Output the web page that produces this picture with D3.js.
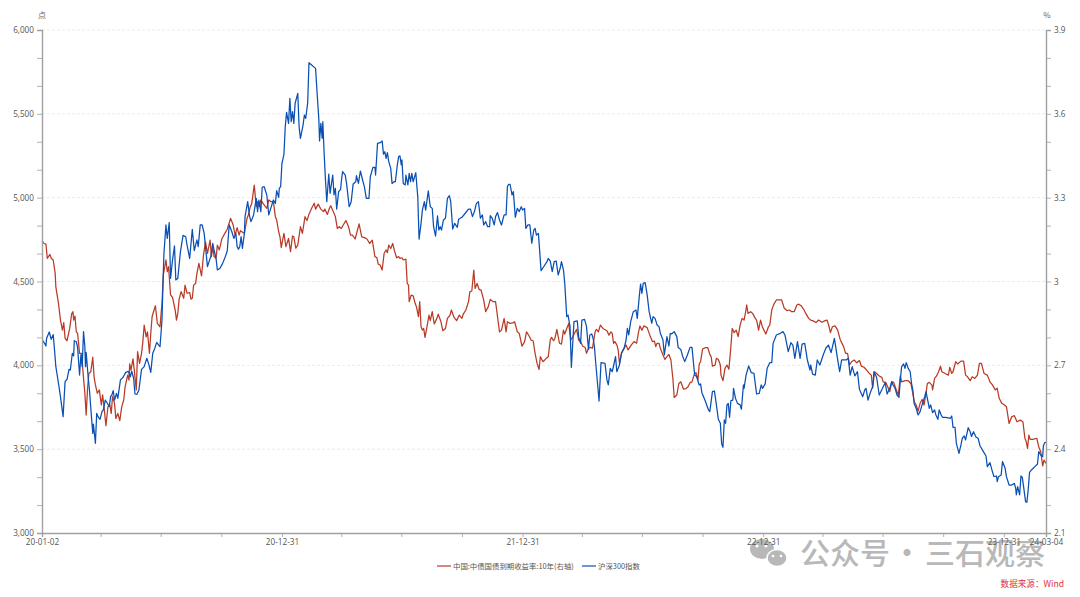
<!DOCTYPE html>
<html>
<head>
<meta charset="utf-8">
<script src="https://cdn.jsdelivr.net/npm/d3@7"></script>
<style>
body{margin:0;background:#fff}
text{font-family:"Noto Sans CJK SC","Open Sans",sans-serif}
</style>
</head>
<body>
<div id="chart"></div>
<script>
// [days since 20-01-02, value]
const hs300 = [[1,4147],[4,4131],[6,4115],[7,4161],[11,4199],[14,4155],[17,4183],[19,4092],[21,3992],[25,3893],[28,3813],[32,3694],[35,3903],[38,3917],[41,3976],[43,3972],[46,4072],[48,4056],[49,4147],[52,4141],[54,4107],[57,3942],[59,4062],[61,3992],[63,4201],[65,4111],[66,3992],[67,4078],[70,3932],[72,3853],[75,3694],[77,3594],[78,3650],[81,3535],[83,3714],[85,3694],[88,3678],[91,3724],[93,3734],[96,3793],[100,3768],[102,3754],[104,3813],[106,3823],[108,3849],[110,3793],[113,3833],[115,3803],[119,3913],[123,3929],[127,3958],[131,3964],[134,3932],[136,3966],[139,3923],[141,3829],[144,3827],[147,3853],[151,3976],[155,3992],[159,4042],[162,4006],[165,3958],[168,4072],[171,4101],[174,4137],[177,4121],[179,4111],[182,4270],[184,4549],[185,4668],[188,4837],[190,4757],[193,4851],[195,4519],[198,4628],[201,4712],[203,4509],[206,4519],[210,4678],[214,4775],[218,4767],[220,4718],[224,4638],[228,4811],[231,4684],[235,4748],[237,4708],[240,4837],[243,4837],[246,4787],[249,4668],[251,4589],[255,4638],
[256,4648],[259,4728],[261,4688],[264,4638],[266,4569],[270,4579],[274,4608],[278,4648],[281,4682],[283,4787],[284,4837],[288,4797],[291,4757],[294,4787],[296,4708],[298,4692],[300,4708],[302,4767],[304,4698],[307,4787],[308,4887],[312,4976],[315,4887],[317,4857],[321,4897],[325,4996],[327,4916],[329,4986],[332,4916],[334,5062],[337,5066],[341,5016],[344,4897],[347,4936],[351,4986],[354,4966],[356,5042],[359,5002],[360,5056],[362,5066],[364,5205],[367,5258],[369,5423],[371,5509],[374,5443],[376,5592],[378,5453],[380,5513],[382,5443],[384,5563],[388,5622],[390,5423],[392,5354],[396,5433],[398,5493],[400,5473],[403,5563],[405,5805],[409,5791],[415,5771],[418,5582],[420,5463],[421,5338],[423,5443],[425,5354],[426,5453],[428,5264],[430,5105],[432,4976],[435,5141],[437,5026],[441,5135],[443,5016],[445,5056],[447,4932],[450,5036],[453,5050],[454,5095],[456,5155],[460,5135],[462,5085],[466,4946],[469,4976],[472,5081],[476,5095],[477,5131],[480,5085],[483,5159],[487,5095],[489,5066],[492,4996],[496,4996],[498,5125],[502,5181],[505,5181],[506,5135],[509,5324],[513,5328],
[516,5338],[518,5260],[520,5274],[522,5235],[524,5268],[526,5215],[529,5175],[531,5085],[534,5095],[536,5095],[539,5195],[541,5245],[543,5249],[545,5195],[546,5225],[548,5085],[551,5076],[552,5135],[555,5076],[557,5145],[559,5095],[561,5145],[563,5095],[567,5149],[570,5006],[572,4753],[575,4847],[577,4926],[580,4976],[582,4926],[586,5040],[589,4946],[592,4936],[594,4827],[597,4771],[600,4891],[602,4807],[604,4827],[606,4807],[609,4867],[612,4877],[615,4996],[618,5012],[620,4976],[623,4813],[626,4847],[630,4823],[632,4871],[637,4883],[642,4907],[647,4932],[650,4932],[653,4887],[656,4917],[659,4966],[662,4976],[665,4877],[668,4897],[670,4837],[673,4857],[676,4827],[679,4827],[680,4893],[683,4877],[686,4837],[688,4887],[691,4911],[694,4867],[697,4837],[701,4897],[704,4897],[706,5066],[708,5080],[710,5080],[713,5016],[715,5036],[718,4883],[721,4936],[724,4917],[727,4946],[729,4926],[732,4936],[734,4817],[737,4837],[740,4837],[743,4728],[746,4807],[748,4817],[750,4777],[753,4787],[755,4678],[757,4565],[761,4588],[766,4618],[768,4638],[771,4622],
[774,4559],[777,4618],[780,4622],[783,4539],[786,4579],[788,4618],[791,4569],[793,4489],[796,4290],[798,4300],[801,4231],[803,3988],[807,4261],[812,4265],[814,4171],[817,4131],[819,4270],[823,4274],[826,4231],[829,4095],[831,4181],[834,4187],[836,4161],[838,4111],[840,4012],[842,3923],[845,3787],[848,4016],[854,4012],[857,3913],[859,3883],[862,3982],[865,3962],[867,3996],[870,4052],[872,3962],[876,4002],[879,4072],[883,4101],[886,4151],[888,4221],[890,4181],[893,4261],[897,4320],[901,4330],[903,4280],[906,4410],[908,4485],[910,4429],[912,4489],[915,4493],[918,4420],[921,4320],[925,4251],[927,4290],[930,4280],[933,4241],[936,4231],[938,4191],[942,4151],[944,4062],[948,4171],[951,4115],[953,4191],[955,4187],[959,4201],[963,4171],[965,4107],[969,4095],[972,4052],[975,4022],[979,4062],[983,4107],[986,4107],[990,3942],[993,3933],[997,3883],[999,3889],[1001,3837],[1006,3789],[1011,3734],[1013,3724],[1017,3843],[1020,3847],[1022,3793],[1026,3678],
[1029,3654],[1031,3531],[1033,3511],[1035,3674],[1037,3654],[1039,3764],[1041,3773],[1043,3690],[1045,3789],[1048,3793],[1049,3863],[1052,3803],[1055,3773],[1059,3764],[1061,3738],[1064,3883],[1065,3863],[1068,3942],[1072,3996],[1076,3956],[1080,3952],[1084,3829],[1088,3833],[1091,3883],[1093,3863],[1097,3889],[1100,3982],[1104,4016],[1107,4016],[1109,4131],[1114,4181],[1120,4191],[1124,4201],[1127,4181],[1132,4082],[1136,4135],[1139,4121],[1142,4042],[1146,4141],[1150,4042],[1153,4127],[1157,4131],[1161,4032],[1165,3972],[1166,4002],[1169,3948],[1173,3942],[1176,4032],[1180,4002],[1185,4062],[1189,4102],[1193,4121],[1197,4076],[1202,4161],[1207,4032],[1210,3962],[1213,4032],[1216,4032],[1220,4032],[1223,4042],[1226,3942],[1229,3992],[1233,3937],[1237,3962],[1240,3857],[1245,3813],[1248,3853],[1250,3863],[1253,3793],[1257,3843],[1260,3873],[1262,3962],[1266,3929],[1270,3823],[1275,3863],[1279,3897],[1282,3829],[1286,3863],
[1289,3903],[1291,3883],[1294,3863],[1297,3823],[1300,3809],[1302,3913],[1304,3992],[1307,4008],[1309,3982],[1311,4016],[1314,3982],[1317,3962],[1319,3893],[1321,3853],[1323,3773],[1326,3744],[1329,3704],[1332,3724],[1335,3764],[1339,3813],[1341,3843],[1344,3783],[1346,3744],[1348,3764],[1351,3718],[1354,3734],[1356,3704],[1359,3678],[1361,3734],[1364,3704],[1366,3690],[1370,3690],[1373,3688],[1378,3684],[1380,3698],[1382,3630],[1385,3630],[1387,3535],[1389,3505],[1391,3475],[1394,3525],[1396,3565],[1399,3579],[1401,3555],[1405,3628],[1408,3604],[1410,3575],[1413,3604],[1417,3571],[1420,3565],[1423,3519],[1428,3485],[1432,3459],[1434,3396],[1438,3420],[1441,3376],[1444,3336],[1448,3340],[1449,3306],[1451,3336],[1455,3346],[1457,3426],[1461,3386],[1463,3336],[1467,3286],[1471,3286],[1475,3296],[1477,3267],[1478,3227],[1480,3277],[1483,3227],[1485,3340],[1487,3332],[1489,3277],[1492,3187],[1494,3183],[1496,3257],[1498,3362],[1501,3376],[1506,3396],[1510,3410],[1512,3485],[1515,3465],[1518,3455],[1519,3519],[1521,3539],[1523,3541]]

const bond10y = [[0,3.146],[3,3.136],[6,3.134],[8,3.083],[12,3.097],[14,3.083],[17,3.077],[20,3.029],[21,2.981],[25,2.922],[28,2.862],[31,2.826],[33,2.853],[35,2.797],[38,2.788],[42,2.832],[45,2.884],[47,2.892],[48,2.862],[50,2.876],[52,2.820],[54,2.814],[57,2.743],[60,2.743],[62,2.683],[65,2.600],[67,2.522],[69,2.612],[71,2.671],[74,2.677],[77,2.729],[79,2.659],[81,2.630],[84,2.600],[87,2.612],[90,2.558],[92,2.594],[94,2.552],[97,2.484],[100,2.552],[103,2.558],[105,2.528],[107,2.588],[110,2.564],[112,2.510],[115,2.528],[118,2.502],[121,2.552],[124,2.576],[126,2.623],[130,2.665],[132,2.647],[133,2.705],[135,2.683],[138,2.723],[140,2.683],[143,2.612],[145,2.749],[148,2.707],[151,2.743],[153,2.785],[155,2.844],[158,2.802],[160,2.820],[163,2.743],[165,2.814],[167,2.874],[170,2.898],[172,2.913],[175,2.850],[179,2.838],[182,2.922],[184,3.023],[188,3.077],[190,3.035],[192,3.053],[195,2.952],[198,2.943],[202,2.898],[204,2.862],[206,2.886],[208,2.936],[211,2.964],[215,2.940],[217,2.987],[220,2.958],[224,2.960],[226,2.937],[228,2.940],[230,2.987],[233,2.993],[235,3.029],[238,3.065],[242,3.020],[245,3.095],[248,3.142],[251,3.101],[255,3.148],
[257,3.089],[259,3.125],[261,3.089],[264,3.083],[266,3.130],[269,3.113],[273,3.154],[278,3.175],[281,3.187],[286,3.226],[290,3.202],[293,3.166],[296,3.193],[299,3.166],[301,3.182],[307,3.172],[311,3.226],[313,3.238],[316,3.268],[318,3.277],[322,3.345],[325,3.268],[327,3.286],[330,3.268],[332,3.292],[336,3.277],[341,3.262],[344,3.292],[347,3.286],[351,3.286],[354,3.232],[356,3.220],[359,3.178],[361,3.160],[363,3.121],[365,3.148],[367,3.172],[370,3.125],[374,3.154],[377,3.107],[380,3.163],[382,3.160],[385,3.119],[388,3.130],[392,3.196],[395,3.172],[399,3.232],[402,3.218],[405,3.241],[409,3.262],[413,3.280],[415,3.259],[419,3.277],[423,3.259],[427,3.250],[429,3.259],[433,3.240],[436,3.262],[438,3.271],[442,3.250],[445,3.232],[448,3.190],[451,3.196],[454,3.190],[457,3.202],[461,3.218],[465,3.196],[468,3.166],[471,3.166],[475,3.152],[481,3.206],[485,3.160],[489,3.157],[493,3.152],[497,3.136],[501,3.148],[505,3.089],[508,3.085],[510,3.062],[513,3.059],
[516,3.041],[519,3.101],[522,3.113],[524,3.103],[526,3.130],[529,3.118],[532,3.136],[535,3.107],[538,3.085],[541,3.089],[543,3.083],[546,3.085],[548,3.077],[552,3.080],[554,2.993],[556,2.987],[557,2.928],[560,2.951],[563,2.949],[566,2.922],[568,2.910],[571,2.874],[573,2.928],[575,2.838],[577,2.826],[579,2.832],[581,2.800],[584,2.838],[587,2.880],[589,2.860],[592,2.892],[595,2.848],[599,2.868],[601,2.883],[605,2.858],[608,2.824],[612,2.832],[615,2.868],[619,2.880],[621,2.898],[625,2.872],[629,2.860],[633,2.880],[637,2.868],[639,2.883],[643,2.898],[647,2.928],[649,2.963],[652,2.966],[655,3.041],[657,2.975],[660,2.993],[663,2.972],[666,2.969],[670,2.934],[673,2.892],[677,2.910],[680,2.936],[684,2.928],[688,2.928],[691,2.874],[694,2.820],[697,2.826],[701,2.868],[704,2.820],[706,2.856],[710,2.850],[714,2.852],[717,2.856],[721,2.820],[724,2.814],[728,2.769],[732,2.784],[735,2.820],[739,2.805],[742,2.790],[745,2.788],[748,2.743],[751,2.707],[754,2.685],[756,2.731],[760,2.713],[765,2.725],[768,2.731],[771,2.791],
[773,2.800],[776,2.788],[778,2.796],[781,2.829],[785,2.779],[788,2.776],[791,2.826],[793,2.812],[796,2.832],[799,2.850],[802,2.791],[805,2.802],[809,2.820],[811,2.829],[814,2.791],[817,2.785],[820,2.769],[824,2.764],[826,2.743],[829,2.761],[832,2.764],[835,2.761],[839,2.820],[841,2.829],[844,2.820],[847,2.844],[851,2.832],[857,2.824],[860,2.808],[863,2.820],[865,2.814],[867,2.779],[869,2.785],[872,2.773],[874,2.755],[876,2.707],[879,2.743],[882,2.757],[886,2.773],[889,2.755],[894,2.773],[898,2.785],[902,2.779],[905,2.820],[907,2.841],[910,2.826],[913,2.841],[918,2.835],[922,2.808],[926,2.785],[929,2.787],[931,2.767],[933,2.779],[936,2.779],[938,2.761],[942,2.737],[945,2.721],[948,2.731],[951,2.739],[954,2.719],[957,2.653],[959,2.585],[963,2.594],[966,2.635],[969,2.641],[973,2.615],[977,2.617],[980,2.623],[983,2.638],[986,2.641],[989,2.665],[992,2.674],[995,2.647],[997,2.705],[999,2.713],[1002,2.758],[1006,2.763],[1010,2.763],[1013,2.739],[1015,2.731],[1017,2.697],[1021,2.701],[1023,2.725],[1026,2.721],[1029,2.701],
[1030,2.665],[1033,2.645],[1036,2.689],[1039,2.701],[1042,2.686],[1045,2.767],[1047,2.832],[1050,2.817],[1053,2.826],[1056,2.803],[1059,2.844],[1062,2.868],[1065,2.862],[1067,2.886],[1069,2.916],[1071,2.886],[1075,2.892],[1078,2.886],[1082,2.868],[1084,2.862],[1087,2.826],[1090,2.862],[1093,2.836],[1098,2.812],[1102,2.838],[1104,2.844],[1107,2.898],[1110,2.918],[1114,2.934],[1122,2.934],[1126,2.904],[1130,2.896],[1134,2.898],[1137,2.892],[1141,2.892],[1145,2.916],[1148,2.919],[1152,2.912],[1156,2.898],[1159,2.884],[1163,2.868],[1166,2.862],[1169,2.860],[1174,2.853],[1178,2.862],[1183,2.854],[1188,2.860],[1191,2.862],[1194,2.838],[1196,2.817],[1199,2.838],[1203,2.841],[1207,2.826],[1211,2.791],[1216,2.767],[1219,2.743],[1222,2.743],[1225,2.701],[1228,2.713],[1232,2.719],[1236,2.709],[1240,2.717],[1243,2.697],[1247,2.693],[1251,2.683],[1255,2.671],[1258,2.665],[1260,2.618],[1263,2.677],[1266,2.671],[1270,2.662],[1274,2.657],[1276,2.641],[1280,2.639],[1286,2.606],
[1289,2.641],[1292,2.639],[1295,2.618],[1299,2.594],[1302,2.662],[1304,2.641],[1309,2.645],[1314,2.645],[1318,2.635],[1321,2.600],[1323,2.570],[1326,2.558],[1329,2.536],[1332,2.564],[1335,2.578],[1338,2.558],[1341,2.600],[1343,2.635],[1346,2.639],[1350,2.629],[1351,2.612],[1354,2.653],[1357,2.662],[1360,2.677],[1363,2.697],[1365,2.677],[1370,2.671],[1375,2.665],[1377,2.693],[1380,2.671],[1382,2.677],[1386,2.713],[1389,2.705],[1394,2.715],[1398,2.715],[1401,2.665],[1404,2.659],[1408,2.645],[1411,2.659],[1415,2.653],[1419,2.665],[1422,2.707],[1425,2.707],[1429,2.671],[1434,2.665],[1438,2.641],[1442,2.629],[1446,2.612],[1449,2.618],[1452,2.582],[1456,2.564],[1460,2.558],[1463,2.552],[1467,2.492],[1471,2.516],[1475,2.520],[1479,2.498],[1484,2.504],[1488,2.498],[1491,2.439],[1493,2.427],[1495,2.403],[1497,2.450],[1499,2.435],[1503,2.435],[1509,2.439],[1512,2.409],[1515,2.391],[1518,2.340],[1520,2.361],[1523,2.349]]

const startDate = new Date(2020,0,2)
const toDate = n => d3.timeDay.offset(startDate,n)

const render = () => {
 let positions = {height:597,width:1080}
 let margin = {top:30,right:34,left:42,bottom:64}
 let w = positions.width - margin.left - margin.right
 let h = positions.height - margin.top - margin.bottom

 const xScale = d3.scaleTime().domain([startDate,toDate(1523)]).range([0,w])
 const yLeft = d3.scaleLinear().domain([3000,6000]).range([h,0])
 const yRight = d3.scaleLinear().domain([2.1,3.9]).range([h,0])

 const svg = d3.select("#chart").append("svg")
   .attr("width",positions.width).attr("height",positions.height)
   .style("display","block").style("background","#fff")

 // watermark sits under the axis labels
 const mark = svg.append("g").attr("fill","#b8b8b8")
 mark.append("ellipse").attr("cx",762).attr("cy",549).attr("rx",12).attr("ry",10)
 mark.append("ellipse").attr("cx",777).attr("cy",558).attr("rx",10).attr("ry",8.5).attr("stroke","#fff").attr("stroke-width",1.5)
 mark.append("circle").attr("cx",757).attr("cy",546).attr("r",1.6).attr("fill","#fff")
 mark.append("circle").attr("cx",766).attr("cy",546).attr("r",1.6).attr("fill","#fff")
 mark.append("circle").attr("cx",773).attr("cy",556).attr("r",1.3).attr("fill","#fff")
 mark.append("circle").attr("cx",781).attr("cy",556).attr("r",1.3).attr("fill","#fff")
 mark.append("text").attr("x",800).attr("y",564).style("font-size","30px").style("font-weight",500).text("公众号")
 mark.append("text").attr("x",907).attr("y",564).attr("text-anchor","middle").style("font-size","30px").style("font-weight",500).text("·")
 mark.append("text").attr("x",925).attr("y",564).style("font-size","30px").style("font-weight",500).text("三石观察")

 const g = svg.append("g").attr("transform",`translate(${margin.left},${margin.top})`)

 // grid
 g.selectAll(".grid").data(d3.range(3500,6001,500)).enter().append("line")
   .attr("x1",0).attr("x2",w)
   .attr("y1",d=>yLeft(d)).attr("y2",d=>yLeft(d))
   .attr("stroke","#e6e6e6").attr("stroke-width",0.8).attr("stroke-dasharray","3,2")

 // series
 const lineL = d3.line().x(d=>xScale(toDate(d[0]))).y(d=>yLeft(d[1]))
 const lineR = d3.line().x(d=>xScale(toDate(d[0]))).y(d=>yRight(d[1]))
 g.append("path").attr("d",lineR(bond10y)).attr("fill","none").attr("stroke","#B93A26").attr("stroke-width",1.25).attr("stroke-linejoin","round")
 g.append("path").attr("d",lineL(hs300)).attr("fill","none").attr("stroke","#0A50B4").attr("stroke-width",1.25).attr("stroke-linejoin","round")

 // axes: major ticks are labelled, the rest are short
 const leftTicks = d3.range(0,19).map(i=>3000+i*500/3)
 const yAxisL = d3.axisLeft(yLeft).tickValues(leftTicks).tickSize(5)
   .tickFormat((d,i)=> i%3==0 ? d3.format(",")(Math.round(d)) : "")
 const rightTicks = d3.range(0,19).map(i=>2.1+i*0.1)
 const yAxisR = d3.axisRight(yRight).tickValues(rightTicks).tickSize(5)
   .tickFormat((d,i)=> i%3==0 ? d3.format(".2~f")(d) : "")
 const majors = ["2020-12-31","2021-12-31","2022-12-31","2023-12-31","2024-03-04"]
 const xDates = ["2020-01-02","2020-03-31","2020-06-30","2020-09-30","2020-12-31","2021-03-31","2021-06-30","2021-09-30","2021-12-31","2022-03-31","2022-06-30","2022-09-30","2022-12-31","2023-03-31","2023-06-30","2023-09-30","2023-12-31","2024-03-04"]
 const parse = d3.timeParse("%Y-%m-%d")
 const isLabelled = s => s=="2020-01-02" || majors.includes(s)
 const xAxis = d3.axisBottom(xScale).tickValues(xDates.map(parse)).tickSize(4).tickPadding(2)
   .tickFormat(d3.timeFormat("%y-%m-%d"))

 const gx = g.append("g").attr("transform",`translate(0,${h})`).call(xAxis)
 gx.selectAll(".tick text").text(function(d){
   const s = d3.timeFormat("%Y-%m-%d")(d)
   return isLabelled(s) ? d3.timeFormat("%y-%m-%d")(d) : ""
 })
 const gl = g.append("g").call(yAxisL)
 const gr = g.append("g").attr("transform",`translate(${w},0)`).call(yAxisR)
 ;[gx,gl,gr].forEach(a=>{
   a.selectAll("path").attr("stroke","#a0a0a0").attr("stroke-width",1.4)
   a.selectAll("line").attr("stroke","#a0a0a0").attr("stroke-width",0.8)
   a.selectAll("text").attr("fill","#555").style("font-size","8.2px").style("font-family",'"Open Sans",sans-serif')
 })

 // units
 svg.append("text").attr("x",42).attr("y",18).attr("text-anchor","middle").attr("fill","#666").style("font-size","8px").text("点")
 svg.append("text").attr("x",1047).attr("y",18).attr("text-anchor","middle").attr("fill","#666").style("font-size","8px").text("%")

 // legend
 const legend = svg.append("g")
 const items = [{x:437,c:"#B93A26",t:"中国:中债国债到期收益率:10年(右轴)"},{x:582,c:"#0A50B4",t:"沪深300指数"}]
 items.forEach(it=>{
   legend.append("line").attr("x1",it.x).attr("x2",it.x+14).attr("y1",566).attr("y2",566).attr("stroke",it.c).attr("stroke-width",1.4).attr("opacity",0.85)
   legend.append("text").attr("x",it.x+16).attr("y",569).attr("fill","#555").style("font-size","7.4px").text(it.t)
 })

 // source note
 svg.append("text").attr("x",1064).attr("y",587).attr("text-anchor","end").attr("fill","#e0303a").style("font-size","8.6px").text("数据来源：Wind")
}
render()
</script>
</body>
</html>
